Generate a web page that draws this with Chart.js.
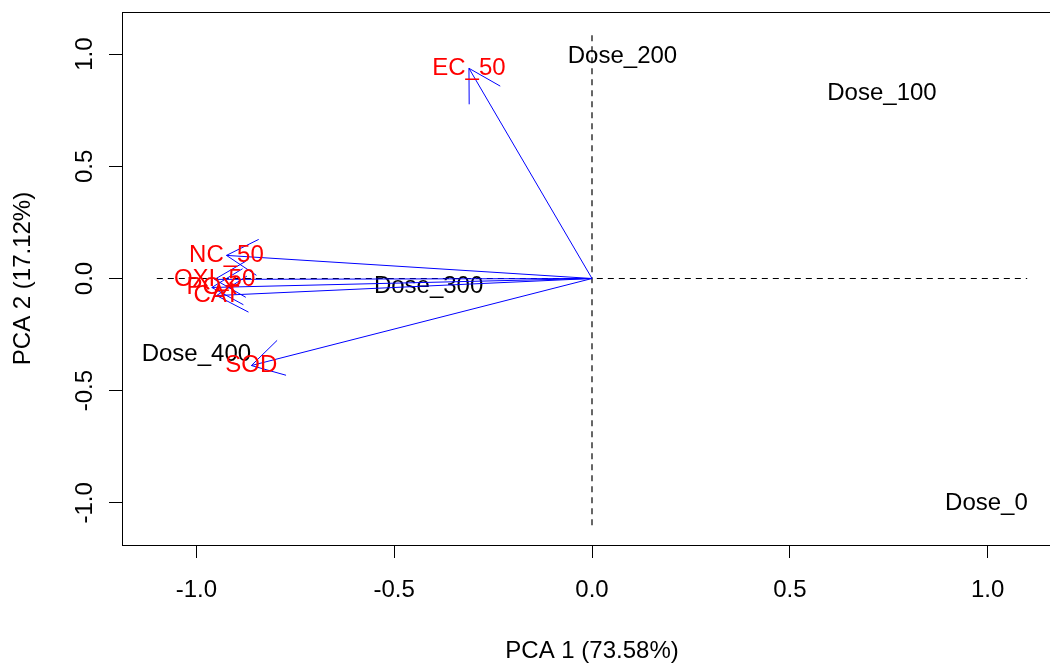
<!DOCTYPE html>
<html lang="en">
<head>
<meta charset="utf-8">
<title>PCA biplot</title>
<style>
  html, body { margin: 0; padding: 0; background: #fff; overflow: hidden; }
  #wrap { width: 1063px; height: 664px; }
</style>
</head>
<body>
<div id="wrap"><canvas id="canvas" width="1063" height="664"></canvas></div>
<script src="https://cdn.jsdelivr.net/npm/chart.js"></script>
<script>
// observation scores (black labels)
const doseLabels = ['Dose_0', 'Dose_100', 'Dose_200', 'Dose_300', 'Dose_400'];
const doseX = [0.997, 0.733, 0.077, -0.413, -1.000];
const doseY = [-1.004, 0.826, 0.991, -0.036, -0.339];

// variable loadings (blue arrows, red labels)
const varLabels = ['EC_50', 'NC_50', 'OXI_50', 'POX', 'CAT', 'SOD'];
const varX = [-0.311, -0.924, -0.954, -0.961, -0.949, -0.861];
const varY = [0.937, 0.103, -0.004, -0.040, -0.076, -0.388];

// axes
const axisLimit = 1.188;
const refLine = 1.1;
const xTitle = 'PCA 1 (73.58%)';
const yTitle = 'PCA 2 (17.12%)';

const FONT = "'Liberation Sans', Arial, sans-serif";

let datasets = [];
for (let i = 0; i < varLabels.length; i++) {
  datasets.push({
    label: varLabels[i],
    data: [{x: 0, y: 0}, {x: varX[i], y: varY[i]}],
    showLine: true,
    borderColor: '#0000ff',
    borderWidth: 1,
    pointRadius: 0,
    isArrow: true
  });
}
datasets.push({
  label: 'h0',
  data: [{x: -refLine, y: 0}, {x: refLine, y: 0}],
  showLine: true, borderColor: '#000', borderWidth: 1.2, borderDash: [6, 5], pointRadius: 0
});
datasets.push({
  label: 'v0',
  data: [{x: 0, y: -refLine}, {x: 0, y: refLine}],
  showLine: true, borderColor: '#000', borderWidth: 1.2, borderDash: [6, 5], pointRadius: 0
});
datasets.push({
  label: 'doses',
  data: doseX.map((x, i) => ({x: x, y: doseY[i]})),
  pointRadius: 0,
  isDose: true
});

const biplotDraw = {
  id: 'biplotDraw',
  beforeDatasetsDraw(chart) {
    const ctx = chart.ctx;
    ctx.save();
    ctx.font = '24px ' + FONT;
    ctx.fillStyle = '#000';
    ctx.textAlign = 'center';
    ctx.textBaseline = 'middle';
    chart.data.datasets.forEach((ds, di) => {
      if (!ds.isDose) return;
      chart.getDatasetMeta(di).data.forEach((pt, i) => {
        ctx.fillText(doseLabels[i], pt.x, pt.y);
      });
    });
    ctx.restore();
  },
  afterDatasetsDraw(chart) {
    const ctx = chart.ctx;
    const a = chart.chartArea;
    ctx.save();
    // arrow heads
    ctx.strokeStyle = '#0000ff';
    ctx.lineWidth = 1;
    let tips = [];
    chart.data.datasets.forEach((ds, di) => {
      if (!ds.isArrow) return;
      const pts = chart.getDatasetMeta(di).data;
      const o = pts[0], t = pts[1];
      const ang = Math.atan2(t.y - o.y, t.x - o.x);
      const len = 36;
      ctx.beginPath();
      ctx.moveTo(t.x + len * Math.cos(ang + Math.PI - Math.PI / 6), t.y + len * Math.sin(ang + Math.PI - Math.PI / 6));
      ctx.lineTo(t.x, t.y);
      ctx.lineTo(t.x + len * Math.cos(ang + Math.PI + Math.PI / 6), t.y + len * Math.sin(ang + Math.PI + Math.PI / 6));
      ctx.stroke();
      tips.push({label: ds.label, x: t.x, y: t.y});
    });
    // variable labels
    ctx.font = '24px ' + FONT;
    ctx.fillStyle = '#ff0000';
    ctx.textAlign = 'center';
    ctx.textBaseline = 'middle';
    tips.forEach(t => ctx.fillText(t.label, t.x, t.y));
    // box
    ctx.strokeStyle = '#000';
    ctx.lineWidth = 1;
    ctx.strokeRect(Math.round(a.left) + 0.5, Math.round(a.top) + 0.5,
      Math.round(a.right - a.left), Math.round(a.bottom - a.top));
    ctx.restore();
  }
};

new Chart(document.getElementById('canvas'), {
  type: 'scatter',
  data: {datasets: datasets},
  options: {
    responsive: false,
    animation: false,
    layout: {padding: {left: 0, top: 12, right: 1, bottom: 0}},
    plugins: {legend: {display: false}, tooltip: {enabled: false}},
    scales: {
      x: {
        type: 'linear',
        min: -axisLimit, max: axisLimit,
        afterFit(scale) { scale.height = 119; scale.paddingLeft = 0; scale.paddingRight = 0; },
        border: {display: false},
        grid: {drawOnChartArea: false, drawTicks: true, tickLength: 13, color: '#000'},
        ticks: {
          stepSize: 0.5, includeBounds: false, padding: 18, color: '#000',
          maxRotation: 0, autoSkip: false,
          font: {family: FONT, size: 24},
          callback: v => v.toFixed(1)
        },
        title: {display: true, text: xTitle, color: '#000',
          font: {family: FONT, size: 24, lineHeight: 1}, padding: {top: 0, bottom: 1}}
      },
      y: {
        type: 'linear',
        min: -axisLimit, max: axisLimit,
        afterFit(scale) { scale.width = 122; scale.paddingTop = 0; scale.paddingBottom = 0; },
        border: {display: false},
        grid: {drawOnChartArea: false, drawTicks: true, tickLength: 13, color: '#000'},
        ticks: {
          stepSize: 0.5, includeBounds: false, padding: 3, color: '#000',
          minRotation: 90, maxRotation: 90, crossAlign: 'center', autoSkip: false,
          font: {family: FONT, size: 24},
          callback: v => v.toFixed(1)
        },
        title: {display: true, text: yTitle, color: '#000',
          font: {family: FONT, size: 24, lineHeight: 1}, padding: {top: 11, bottom: 0}}
      }
    }
  },
  plugins: [biplotDraw]
});
</script>
</body>
</html>
